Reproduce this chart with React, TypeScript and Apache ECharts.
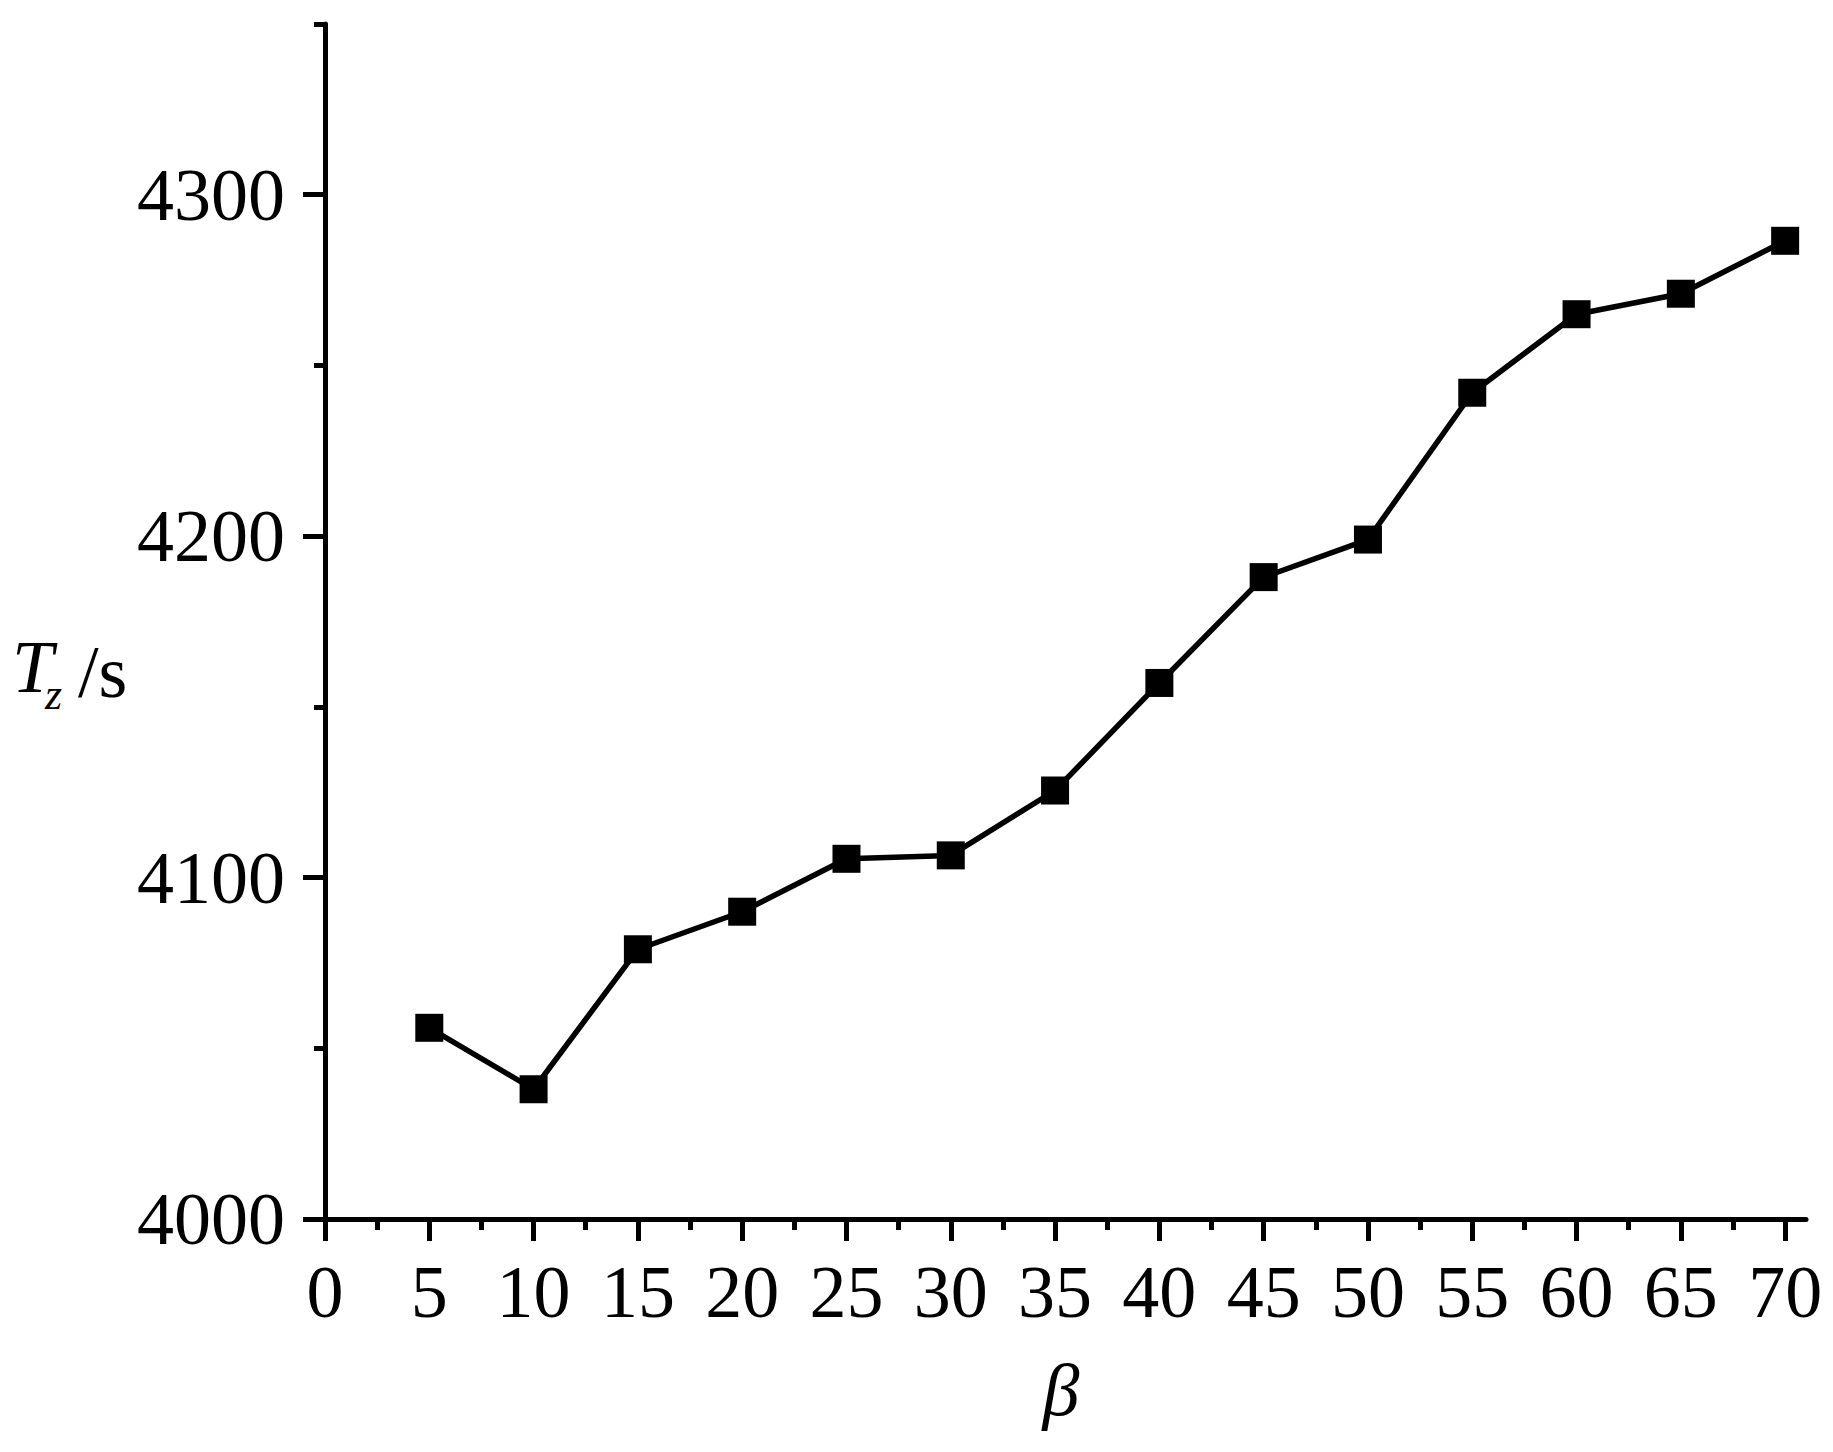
import React, { useEffect, useRef } from "react";
import * as echarts from "echarts";

const betaValues = [5, 10, 15, 20, 25, 30, 35, 40, 45, 50, 55, 60, 65, 70];
const tzValues = [4056, 4038, 4079, 4090, 4105.5, 4106.5, 4125.5, 4157, 4188, 4199, 4242, 4265, 4271, 4286.5];

const xMajorTicks = [0, 5, 10, 15, 20, 25, 30, 35, 40, 45, 50, 55, 60, 65, 70];
const xMinorTicks = [2.5, 7.5, 12.5, 17.5, 22.5, 27.5, 32.5, 37.5, 42.5, 47.5, 52.5, 57.5, 62.5, 67.5];
const yMajorTicks = [4000, 4100, 4200, 4300];
const yMinorTicks = [4050, 4150, 4250, 4350];

const FONT = "'Liberation Serif', 'Times New Roman', serif";

export default function App() {
  const ref = useRef<HTMLDivElement>(null);
  useEffect(() => {
    document.body.style.margin = "0";
    if (!ref.current) return;
    const chart = echarts.init(ref.current, null, { renderer: "svg" });
    const axisLine = { show: true, onZero: false, lineStyle: { color: "#000", width: 5 } };
    chart.setOption({
      animation: false,
      backgroundColor: "#fff",
      grid: { left: 325, right: 27, top: 24, bottom: 233, containLabel: false },
      xAxis: [
        {
          type: "value",
          min: 0,
          max: 71,
          position: "bottom",
          axisLine,
          axisTick: { show: true, inside: false, length: 22, customValues: xMajorTicks, lineStyle: { color: "#000", width: 5 } },
          axisLabel: { show: true, customValues: xMajorTicks, margin: 36, color: "#000", fontSize: 74, fontFamily: FONT, formatter: (v: number) => String(v) },
          splitLine: { show: false },
        },
        {
          type: "value",
          min: 0,
          max: 71,
          position: "bottom",
          offset: 0,
          axisLine: { show: false },
          axisTick: { show: true, inside: false, length: 11, customValues: xMinorTicks, lineStyle: { color: "#000", width: 5 } },
          axisLabel: { show: false },
          splitLine: { show: false },
        },
      ],
      yAxis: [
        {
          type: "value",
          min: 4000,
          max: 4350,
          position: "left",
          axisLine,
          axisTick: { show: true, inside: false, length: 22, customValues: yMajorTicks, lineStyle: { color: "#000", width: 5 } },
          axisLabel: { show: true, customValues: yMajorTicks, margin: 40, color: "#000", fontSize: 74, fontFamily: FONT, formatter: (v: number) => String(v) },
          splitLine: { show: false },
        },
        {
          type: "value",
          min: 4000,
          max: 4350,
          position: "left",
          offset: 0,
          axisLine: { show: false },
          axisTick: { show: true, inside: false, length: 11, customValues: yMinorTicks, lineStyle: { color: "#000", width: 5 } },
          axisLabel: { show: false },
          splitLine: { show: false },
        },
      ],
      graphic: [
        { type: "text", x: 12, y: 667, style: { text: "T", font: `italic 74px ${FONT}`, fill: "#000", align: "left", verticalAlign: "middle" } },
        { type: "text", x: 45, y: 694, style: { text: "z", font: `italic 44px ${FONT}`, fill: "#000", align: "left", verticalAlign: "middle" } },
        { type: "text", x: 78, y: 672, style: { text: "/s", font: `74px ${FONT}`, fill: "#000", align: "left", verticalAlign: "middle" } },
        { type: "text", x: 1061, y: 1390, style: { text: "β", font: `italic 74px ${FONT}`, fill: "#000", align: "center", verticalAlign: "middle" } },
      ],
      series: [
        {
          type: "line",
          xAxisIndex: 0,
          yAxisIndex: 0,
          data: betaValues.map((b, i) => [b, tzValues[i]]),
          symbol: "rect",
          symbolSize: 28,
          lineStyle: { color: "#000", width: 5.5 },
          itemStyle: { color: "#000" },
          z: 3,
        },
      ],
    });
    return () => chart.dispose();
  }, []);
  return <div ref={ref} style={{ width: 1833, height: 1452 }} />;
}
